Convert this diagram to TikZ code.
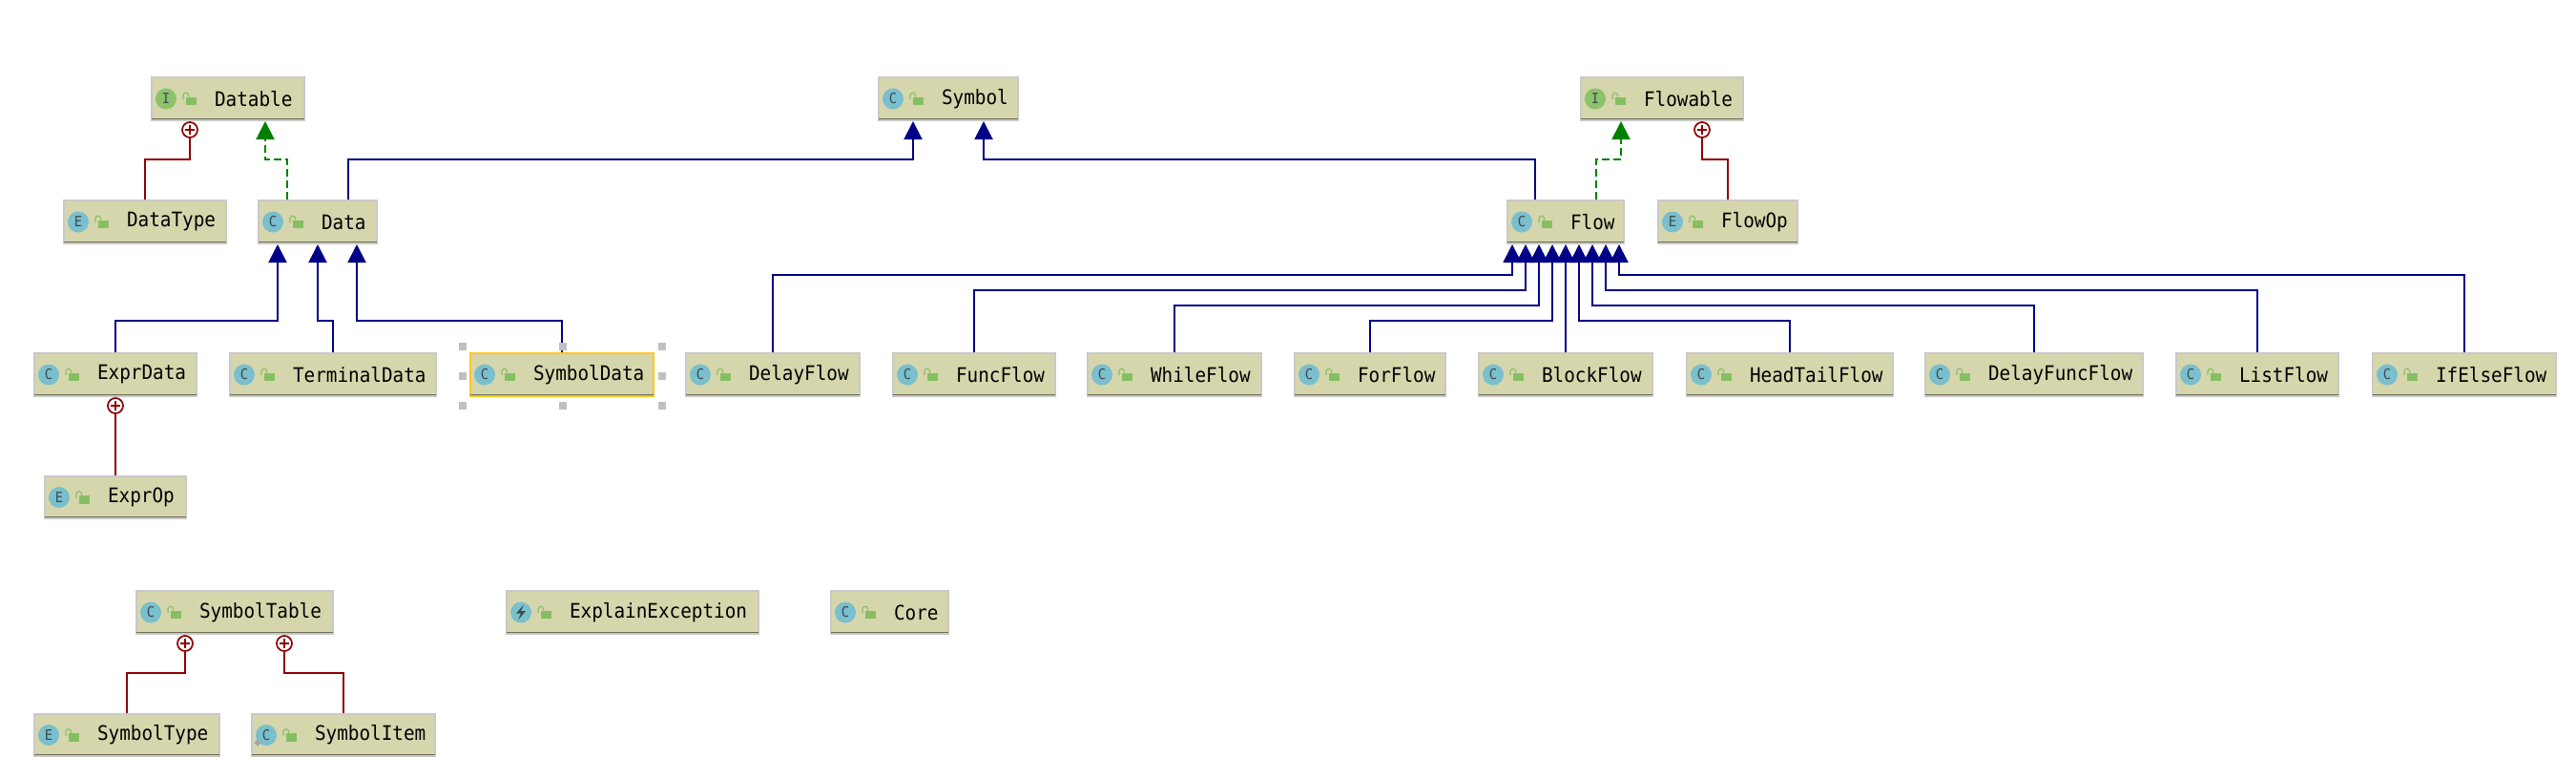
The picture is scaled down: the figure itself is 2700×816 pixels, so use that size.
\documentclass[tikz,border=0pt]{standalone}
\usepackage{fontspec}
\setmonofont[FakeStretch=0.92]{DejaVu Sans Mono}
\usetikzlibrary{arrows.meta,calc}
\definecolor{boxfill}{HTML}{D6D6AD}
\definecolor{boxedge}{HTML}{C9C9C9}
\definecolor{boxbase}{HTML}{6B6B58}
\definecolor{iconblue}{HTML}{79BFCD}
\definecolor{icongreen}{HTML}{8CC26B}
\definecolor{lockgreen}{HTML}{85BF62}
\definecolor{inkgrey}{HTML}{3F4A50}
\definecolor{inhblue}{HTML}{000087}
\definecolor{implgreen}{HTML}{008000}
\definecolor{nestred}{HTML}{8E0000}
\definecolor{selyellow}{HTML}{FFC81E}
\definecolor{handlegrey}{HTML}{C0C0C0}
\tikzset{
  umlbox/.style={draw=boxedge,line width=2pt,fill=boxfill,inner sep=0pt,align=left,
     font=\ttfamily\fontsize{21}{24}\selectfont,text=black},
  selbox/.style={draw=selyellow},
  iconbase/.style={circle,minimum size=22pt,inner sep=0pt,
     font=\ttfamily\fontsize{15}{17}\selectfont,text=inkgrey},
  classicon/.style={iconbase,fill=iconblue},
  ifaceicon/.style={iconbase,fill=icongreen},
  inh/.style={draw=inhblue,line width=2pt,-{Triangle[width=19pt,length=19pt,fill=inhblue]}},
  impl/.style={draw=implgreen,line width=2pt,dash pattern=on 8pt off 4pt,
     -{Triangle[width=19pt,length=19pt,fill=implgreen]}},
  nest/.style={draw=nestred,line width=2pt},
  plusmark/.style={circle,draw=nestred,line width=1.7pt,fill=white,minimum size=16pt,inner sep=0pt,
     path picture={\draw[nestred,line width=1.5pt]
        ([xshift=-5pt]path picture bounding box.center)--([xshift=5pt]path picture bounding box.center)
        ([yshift=-5pt]path picture bounding box.center)--([yshift=5pt]path picture bounding box.center);}},
  handle/.style={fill=handlegrey,minimum size=8pt,inner sep=0pt,rectangle}
}
% name x0 x1 y0 y1 iconstyle letter text extra
\newcommand{\umlnode}[9]{%
  \pgfmathsetlengthmacro{\boxw}{(#3-#2-2)*1pt}%
  \pgfmathsetlengthmacro{\boxh}{(#5-#4-2)*1pt}%
  \node[umlbox,#9,text width=\boxw,minimum height=\boxh] (#1) at ({(#2+#3)/2},{(#4+#5)/2})
     {\hspace*{66pt}#8};
  \draw[boxbase,line width=1.5pt] ([xshift=1pt,yshift=2.5pt]#1.south west)--([xshift=-1pt,yshift=2.5pt]#1.south east);
  \node[#6] (#1-icon) at ([xshift=16pt]#1.west) {#7};
  \fill[lockgreen] ($(#1.west)+(36.5,-2)$) rectangle ++(11,8.5);
  \draw[lockgreen,line width=1.1pt] ($(#1.west)+(34,0.5)$) -- ++(0,-4) arc[start angle=180,end angle=0,radius=2.8pt] -- ++(0,1.5);
}
\newcommand{\uplink}[6]{% style from dx level to dx
  \draw[#1] ([xshift=#3pt]#2.north) -- ([xshift=#3pt]#2.north |- #4) -| ([xshift=#6pt]#5.south);
}
\begin{document}
\begin{tikzpicture}[x=1pt,y=-1pt]
\useasboundingbox (0,0) rectangle (2700,816);
\coordinate (lvtop) at (0,167);
\coordinate (lvdata) at (0,336);
\coordinate (lva) at (0,288);
\coordinate (lvb) at (0,304);
\coordinate (lvc) at (0,320);
\coordinate (lvd) at (0,336);
\coordinate (lvtable) at (0,705);

\umlnode{Datable}{158}{320}{80}{127}{ifaceicon}{I}{Datable}{}
\umlnode{Symbol}{920}{1068}{80}{127}{classicon}{C}{Symbol}{}
\umlnode{Flowable}{1656}{1828}{80}{127}{ifaceicon}{I}{Flowable}{}
\umlnode{DataType}{66}{238}{209}{256}{classicon}{E}{DataType}{}
\umlnode{Data}{270}{396}{209}{256}{classicon}{C}{Data}{}
\umlnode{Flow}{1579}{1703}{209}{256}{classicon}{C}{Flow}{}
\umlnode{FlowOp}{1737}{1885}{209}{256}{classicon}{E}{FlowOp}{}
\umlnode{ExprData}{35}{207}{369}{416}{classicon}{C}{ExprData}{}
\umlnode{TerminalData}{240}{458}{369}{416}{classicon}{C}{TerminalData}{}
\umlnode{SymbolData}{492}{686}{369}{416}{classicon}{C}{SymbolData}{selbox}
\umlnode{DelayFlow}{718}{902}{369}{416}{classicon}{C}{DelayFlow}{}
\umlnode{FuncFlow}{935}{1107}{369}{416}{classicon}{C}{FuncFlow}{}
\umlnode{WhileFlow}{1139}{1323}{369}{416}{classicon}{C}{WhileFlow}{}
\umlnode{ForFlow}{1356}{1516}{369}{416}{classicon}{C}{ForFlow}{}
\umlnode{BlockFlow}{1549}{1733}{369}{416}{classicon}{C}{BlockFlow}{}
\umlnode{HeadTailFlow}{1767}{1985}{369}{416}{classicon}{C}{HeadTailFlow}{}
\umlnode{DelayFuncFlow}{2017}{2247}{369}{416}{classicon}{C}{DelayFuncFlow}{}
\umlnode{ListFlow}{2280}{2452}{369}{416}{classicon}{C}{ListFlow}{}
\umlnode{IfElseFlow}{2486}{2680}{369}{416}{classicon}{C}{IfElseFlow}{}
\umlnode{ExprOp}{46}{196}{498}{544}{classicon}{E}{ExprOp}{}
\umlnode{SymbolTable}{142}{350}{618}{665}{classicon}{C}{SymbolTable}{}
\umlnode{ExplainException}{530}{796}{618}{665}{classicon}{}{ExplainException}{}
\umlnode{Core}{870}{995}{618}{665}{classicon}{C}{Core}{}
\umlnode{SymbolType}{35}{231}{747}{793}{classicon}{E}{SymbolType}{}
\umlnode{SymbolItem}{263}{457}{747}{793}{classicon}{C}{SymbolItem}{}

% lightning glyph and small badge
\fill[inkgrey] ($(ExplainException-icon.center)+(3,-8)$) -- ++(-8,9) -- ++(5,0) -- ++(-3,7) -- ++(8,-9.5) -- ++(-5,0) -- ++(3,-6.5) -- cycle;
\node[rectangle,rotate=45,fill=gray!70,minimum size=5pt,inner sep=0pt] (SymbolItem-badge) at ([xshift=-9pt,yshift=-8pt]SymbolItem-icon.center) {};

% inheritance
\uplink{inh}{Data}{32}{lvtop}{Symbol}{-37}
\uplink{inh}{Flow}{-32}{lvtop}{Symbol}{37}
\uplink{impl}{Data}{-32}{lvtop}{Datable}{39}
\uplink{impl}{Flow}{32}{lvtop}{Flowable}{-43}
\uplink{inh}{ExprData}{0}{lvdata}{Data}{-42}
\uplink{inh}{TerminalData}{0}{lvdata}{Data}{0}
\uplink{inh}{SymbolData}{0}{lvdata}{Data}{41}
\uplink{inh}{DelayFlow}{0}{lva}{Flow}{-56}
\uplink{inh}{FuncFlow}{0}{lvb}{Flow}{-42}
\uplink{inh}{WhileFlow}{0}{lvc}{Flow}{-28}
\uplink{inh}{ForFlow}{0}{lvd}{Flow}{-14}
\draw[inh] (BlockFlow.north) -- (Flow.south);
\uplink{inh}{HeadTailFlow}{0}{lvd}{Flow}{14}
\uplink{inh}{DelayFuncFlow}{0}{lvc}{Flow}{28}
\uplink{inh}{ListFlow}{0}{lvb}{Flow}{42}
\uplink{inh}{IfElseFlow}{0}{lva}{Flow}{56}

% nesting
\node[plusmark] (pDataType) at ([xshift=-40pt,yshift=-9pt]Datable.south) {};
\node[plusmark] (pFlowOp) at ([xshift=42pt,yshift=-9pt]Flowable.south) {};
\node[plusmark] (pExprOp) at ([yshift=-9pt]ExprData.south) {};
\node[plusmark] (pSymbolType) at ([xshift=-52pt,yshift=-9pt]SymbolTable.south) {};
\node[plusmark] (pSymbolItem) at ([xshift=52pt,yshift=-9pt]SymbolTable.south) {};
\draw[nest] (DataType.north) -- (DataType.north |- lvtop) -| (pDataType.south);
\draw[nest] (FlowOp.north) -- (FlowOp.north |- lvtop) -| (pFlowOp.south);
\draw[nest] (ExprOp.north) -- (pExprOp.south);
\draw[nest] (SymbolType.north) -- (SymbolType.north |- lvtable) -| (pSymbolType.south);
\draw[nest] (SymbolItem.north) -- (SymbolItem.north |- lvtable) -| (pSymbolItem.south);

% selection handles
\node[handle] (h1) at ([xshift=-7pt,yshift=6pt]SymbolData.north west) {};
\node[handle] (h2) at ([xshift=1pt,yshift=6pt]SymbolData.north) {};
\node[handle] (h3) at ([xshift=8pt,yshift=6pt]SymbolData.north east) {};
\node[handle] (h4) at ([xshift=-7pt,yshift=-1.5pt]SymbolData.west) {};
\node[handle] (h5) at ([xshift=8pt,yshift=-1.5pt]SymbolData.east) {};
\node[handle] (h6) at ([xshift=-7pt,yshift=-9pt]SymbolData.south west) {};
\node[handle] (h7) at ([xshift=1pt,yshift=-9pt]SymbolData.south) {};
\node[handle] (h8) at ([xshift=8pt,yshift=-9pt]SymbolData.south east) {};
\end{tikzpicture}
\end{document}
